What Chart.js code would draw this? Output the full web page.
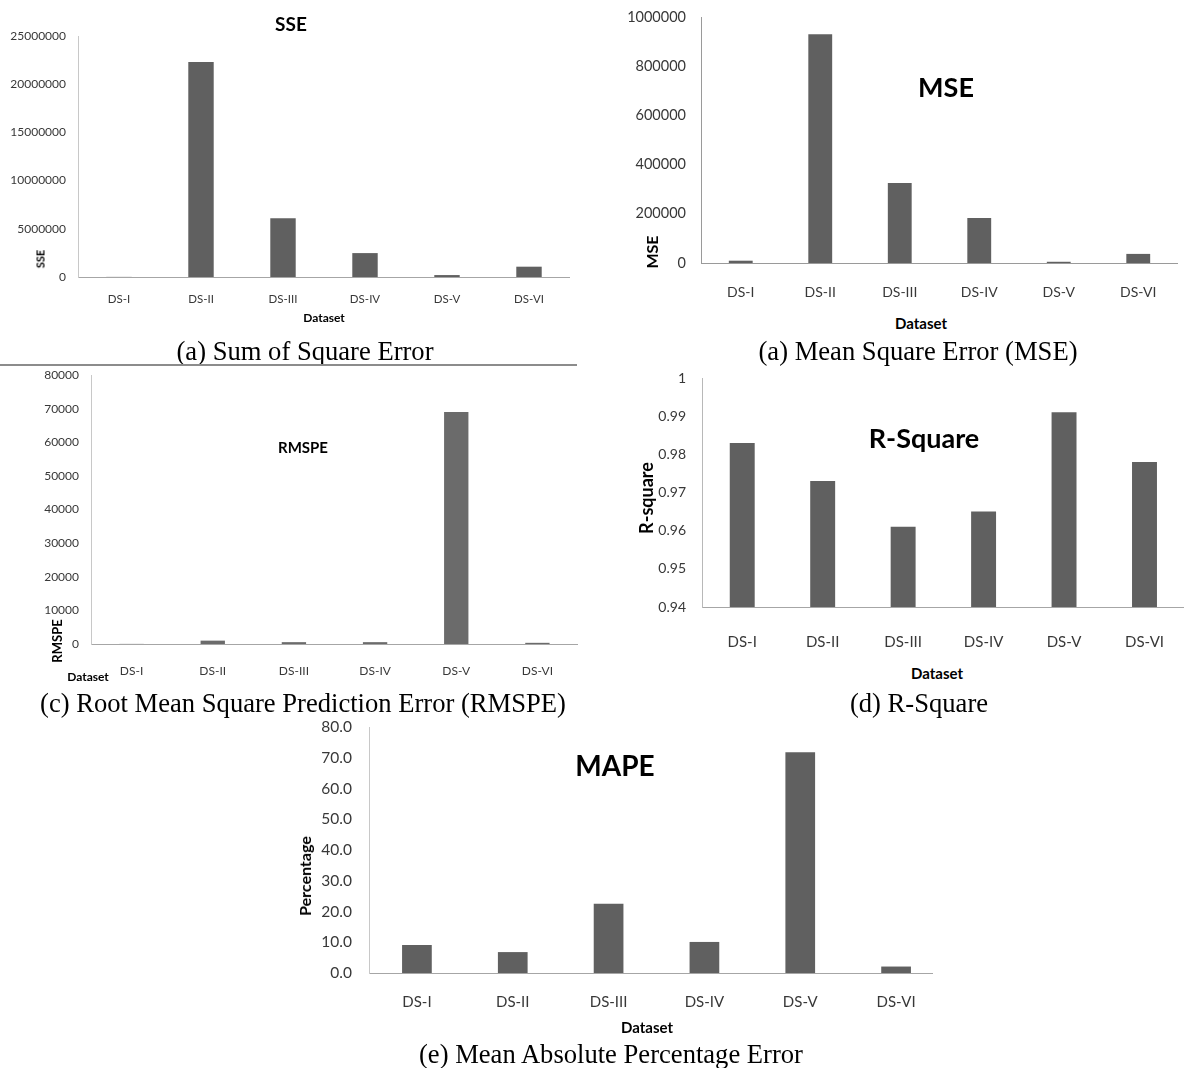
<!DOCTYPE html>
<html>
<head>
<meta charset="utf-8">
<title>Error measures by dataset</title>
<script src="https://cdn.jsdelivr.net/npm/chart.js@4.4.1/dist/chart.umd.min.js"></script>
<style>
  html, body { margin: 0; padding: 0; background: #fff; }
  body { width: 1184px; height: 1068px; position: relative; overflow: hidden; }
  .panel { position: absolute; overflow: hidden; }
  .panel canvas { display: block; }
  .txt {
    position: absolute; white-space: nowrap; line-height: 1;
    font-family: Lato, "Open Sans", sans-serif; font-weight: 700; color: #000;
    transform: translate(-50%, -50%);
  }
  .rot { transform: translate(-50%, -50%) rotate(-90deg); }
  .cap {
    position: absolute; white-space: nowrap; line-height: 1;
    font-family: "Liberation Serif", "Times New Roman", serif; font-size: 26.6px; color: #000;
    transform: translate(-50%, -50%);
  }
  .rule { position: absolute; left: 0; top: 364px; width: 577px; height: 2px; background: #8c8c8c; }
</style>
</head>
<body>

<div class="panel" id="p-sse"><canvas id="sse"></canvas></div>
<div class="panel" id="p-mse"><canvas id="mse"></canvas></div>
<div class="panel" id="p-rmspe"><canvas id="rmspe"></canvas></div>
<div class="panel" id="p-rsq"><canvas id="rsq"></canvas></div>
<div class="panel" id="p-mape"><canvas id="mape"></canvas></div>

<!-- (a) SSE -->
<div class="txt" style="left:291px;top:23px;font-size:19px">SSE</div>
<div class="txt rot" style="left:40px;top:259px;font-size:11px">SSE</div>
<div class="txt" style="left:324px;top:318px;font-size:12px">Dataset</div>
<div class="cap" style="left:305px;top:351px">(a) Sum of Square Error</div>
<div class="rule"></div>

<!-- (a) MSE -->
<div class="txt" style="left:946px;top:86px;font-size:27px">MSE</div>
<div class="txt rot" style="left:652px;top:252px;font-size:16px">MSE</div>
<div class="txt" style="left:921px;top:323px;font-size:15px">Dataset</div>
<div class="cap" style="left:918px;top:351px">(a) Mean Square Error (MSE)</div>

<!-- (c) RMSPE -->
<div class="txt" style="left:303px;top:447px;font-size:15px">RMSPE</div>
<div class="txt rot" style="left:57px;top:641px;font-size:13px">RMSPE</div>
<div class="txt" style="left:88px;top:677px;font-size:12px">Dataset</div>
<div class="cap" style="left:303px;top:703px">(c) Root Mean Square Prediction Error (RMSPE)</div>

<!-- (d) R-Square -->
<div class="txt" style="left:924px;top:437px;font-size:27px">R-Square</div>
<div class="txt rot" style="left:646px;top:498px;font-size:18px">R-square</div>
<div class="txt" style="left:937px;top:673px;font-size:15px">Dataset</div>
<div class="cap" style="left:919px;top:703px">(d) R-Square</div>

<!-- (e) MAPE -->
<div class="txt" style="left:615px;top:765px;font-size:28px">MAPE</div>
<div class="txt rot" style="left:305px;top:876px;font-size:16px">Percentage</div>
<div class="txt" style="left:647px;top:1027px;font-size:15px">Dataset</div>
<div class="cap" style="left:611px;top:1054px">(e) Mean Absolute Percentage Error</div>

<script>
// Categories shared by every panel
const datasets = ['DS-I', 'DS-II', 'DS-III', 'DS-IV', 'DS-V', 'DS-VI'];

// Sum of square error
const sseValues = [12000, 22300000, 6100000, 2480000, 200000, 1070000];
const sseTicks = ['0', '5000000', '10000000', '15000000', '20000000', '25000000'];

// Mean square error
const mseValues = [9400, 930000, 325000, 183000, 5000, 37000];
const mseTicks = ['0', '200000', '400000', '600000', '800000', '1000000'];

// Root mean square prediction error
const rmspeValues = [30, 1000, 550, 550, 69000, 350];
const rmspeTicks = ['0', '10000', '20000', '30000', '40000', '50000', '60000', '70000', '80000'];

// R-square
const rsqValues = [0.983, 0.973, 0.961, 0.965, 0.991, 0.978];
const rsqTicks = ['0.94', '0.95', '0.96', '0.97', '0.98', '0.99', '1'];

// Mean absolute percentage error (%)
const mapeValues = [9.1, 6.8, 22.5, 10.1, 71.8, 2.1];
const mapeTicks = ['0.0', '10.0', '20.0', '30.0', '40.0', '50.0', '60.0', '70.0', '80.0'];

const FONT = 'Lato, "Open Sans", sans-serif';
const TICK_COLOR = '#383838';
const HEAD = 32;    // room above the plot for the top tick label
const FOOT = 45;    // height of the category axis band

// Builds one bar panel; the plot box is given in page pixels
function barChart(id, values, tickLabels, o) {
  const panel = document.getElementById('p-' + id);
  const canvas = document.getElementById(id);
  const w = o.plotRight - o.x;
  const h = (o.plotBottom - o.plotTop) + HEAD + FOOT;
  panel.style.left = o.x + 'px';
  panel.style.top = (o.plotTop - HEAD) + 'px';
  panel.style.width = Math.min(w, o.clipRight - o.x) + 'px';
  panel.style.height = h + 'px';
  canvas.width = w;
  canvas.height = h;
  return new Chart(canvas, {
    type: 'bar',
    data: {
      labels: datasets,
      datasets: [{
        data: values,
        backgroundColor: o.color || '#606060',
        borderWidth: 0,
        categoryPercentage: 1,
        barPercentage: o.bar
      }]
    },
    options: {
      responsive: false,
      animation: false,
      devicePixelRatio: 1,
      layout: { padding: { left: 0, right: 0, top: HEAD, bottom: 0 } },
      plugins: { legend: { display: false }, tooltip: { enabled: false }, title: { display: false } },
      scales: {
        x: {
          grid: { display: false, drawTicks: false },
          border: { display: true, color: o.xLine, width: 1 },
          ticks: {
            color: TICK_COLOR, font: { family: FONT, size: o.xFont },
            padding: o.xPad, maxRotation: 0, autoSkip: false
          },
          afterFit: s => { s.height = FOOT; }
        },
        y: {
          min: o.min, max: o.max,
          grid: { display: false, drawTicks: false },
          border: { display: true, color: o.yLine, width: 1 },
          ticks: {
            stepSize: o.step, color: TICK_COLOR, font: { family: FONT, size: o.yFont },
            padding: o.yPad, callback: (v, i) => tickLabels[i]
          },
          afterFit: s => { s.width = o.plotLeft - o.x; }
        }
      }
    }
  });
}

barChart('sse', sseValues, sseTicks, {
  x: 0, plotLeft: 78, plotRight: 570, clipRight: 590, plotTop: 36, plotBottom: 277,
  min: 0, max: 25000000, step: 5000000, bar: 0.31,
  xFont: 11.5, yFont: 12, xPad: 15, yPad: 12,
  xLine: '#a6a6a6', yLine: '#c8c8c8'
});

barChart('mse', mseValues, mseTicks, {
  x: 590, plotLeft: 701, plotRight: 1178, clipRight: 1184, plotTop: 17, plotBottom: 263,
  min: 0, max: 1000000, step: 200000, bar: 0.30,
  xFont: 14, yFont: 14.5, xPad: 21, yPad: 15,
  xLine: '#9a9a9a', yLine: '#9a9a9a'
});

barChart('rmspe', rmspeValues, rmspeTicks, {
  x: 0, plotLeft: 91, plotRight: 578, clipRight: 590, plotTop: 375, plotBottom: 644,
  min: 0, max: 80000, step: 10000, bar: 0.30, color: '#6b6b6b',
  xFont: 12, yFont: 12, xPad: 20, yPad: 12,
  xLine: '#a6a6a6', yLine: '#c8c8c8'
});

barChart('rsq', rsqValues, rsqTicks, {
  x: 590, plotLeft: 702, plotRight: 1190, clipRight: 1184, plotTop: 378, plotBottom: 607,
  min: 0.94, max: 1, step: 0.01, bar: 0.31,
  xFont: 15, yFont: 14, xPad: 26, yPad: 16,
  xLine: '#a6a6a6', yLine: '#b8b8b8'
});

barChart('mape', mapeValues, mapeTicks, {
  x: 280, plotLeft: 369, plotRight: 944, clipRight: 933, plotTop: 727, plotBottom: 973,
  min: 0, max: 80, step: 10, bar: 0.31,
  xFont: 15, yFont: 15.5, xPad: 20, yPad: 17,
  xLine: '#a6a6a6', yLine: '#c8c8c8'
});
</script>
</body>
</html>
